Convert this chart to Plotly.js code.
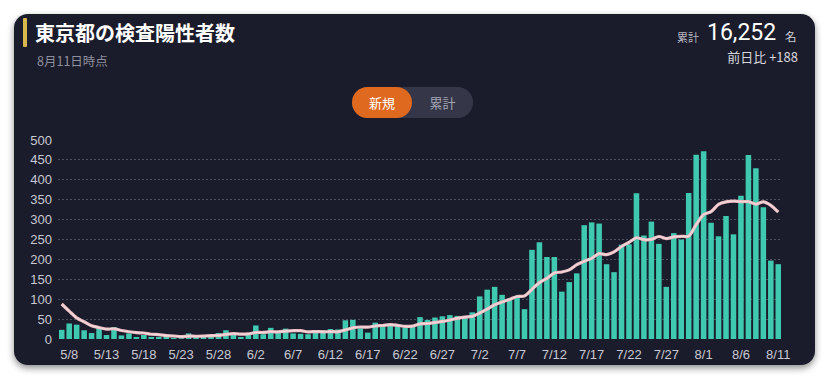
<!DOCTYPE html>
<html>
<head>
<meta charset="utf-8">
<script src="https://cdn.plot.ly/plotly-3.0.1.min.js"></script>
<style>
  html, body { margin:0; padding:0; background:#ffffff; width:828px; height:381px; overflow:hidden; }
  #card { position:absolute; left:14px; top:14px; width:801px; height:351px; border-radius:14px;
          background:#1b1c2b; box-shadow:0 3px 7px rgba(0,0,0,0.45); }
  #chart { position:absolute; left:0; top:0; width:828px; height:381px; }
  .t { position:absolute; font-family:"Noto Sans CJK JP", sans-serif; white-space:nowrap; }
  #bar { position:absolute; left:23px; top:18px; width:4px; height:29px; background:#d8b84c; border-radius:1px; }
  #toggle { position:absolute; left:352px; top:87px; width:121px; height:31px; border-radius:16px; background:#353748; }
  #on { position:absolute; left:352px; top:87px; width:60px; height:31px; border-radius:16px; background:#df691f; }
</style>
</head>
<body>
<div id="card"></div>
<div id="bar"></div>
<div class="t" style="left:35px;top:20px;font-size:20px;font-weight:bold;color:#ffffff;line-height:26px;">東京都の検査陽性者数</div>
<div class="t" style="left:37px;top:53px;font-size:12.5px;color:#8d8f9e;line-height:16px;">8月11日時点</div>
<div class="t" style="left:677px;top:30px;font-size:11px;color:#b4b5c0;line-height:14px;">累計</div>
<div class="t" style="left:707px;top:19px;font-size:23px;color:#ffffff;line-height:28px;font-family:Roboto, sans-serif;">16,252</div>
<div class="t" style="left:785px;top:29px;font-size:11.5px;color:#d0d1d8;line-height:14px;">名</div>
<div class="t" style="right:30px;top:49px;font-size:13px;color:#d6d7de;line-height:16px;">前日比 +188</div>
<div id="toggle"></div>
<div id="on"></div>
<div class="t" style="left:352px;top:87px;width:60px;text-align:center;font-size:13px;color:#ffffff;line-height:31px;">新規</div>
<div class="t" style="left:412px;top:87px;width:61px;text-align:center;font-size:13px;color:#a3a5b3;line-height:31px;">累計</div>
<div id="chart"></div>
<script>
const dates = ["5/7","5/8","5/9","5/10","5/11","5/12","5/13","5/14","5/15","5/16","5/17","5/18","5/19","5/20","5/21","5/22","5/23","5/24","5/25","5/26","5/27","5/28","5/29","5/30","5/31",
"6/1","6/2","6/3","6/4","6/5","6/6","6/7","6/8","6/9","6/10","6/11","6/12","6/13","6/14","6/15","6/16","6/17","6/18","6/19","6/20","6/21","6/22","6/23","6/24","6/25","6/26","6/27","6/28","6/29","6/30",
"7/1","7/2","7/3","7/4","7/5","7/6","7/7","7/8","7/9","7/10","7/11","7/12","7/13","7/14","7/15","7/16","7/17","7/18","7/19","7/20","7/21","7/22","7/23","7/24","7/25","7/26","7/27","7/28","7/29","7/30","7/31",
"8/1","8/2","8/3","8/4","8/5","8/6","8/7","8/8","8/9","8/10","8/11"];

const newCases = [23,39,36,22,15,28,10,30,9,14,5,10,5,5,11,3,2,14,8,10,11,15,22,14,5,
13,34,12,28,20,26,14,13,12,18,22,25,24,47,48,27,16,41,35,39,35,29,31,55,48,54,57,60,58,54,
67,107,124,131,111,102,106,75,224,243,206,206,119,143,165,286,293,290,188,168,237,238,366,260,295,239,131,266,250,367,463,
472,292,258,309,263,360,462,429,331,197,188];

const avg7 = [88.0,70.0,53.1,43.3,33.0,28.7,24.7,25.7,21.4,18.3,15.9,15.1,11.9,11.1,8.4,7.6,5.9,7.1,6.9,7.6,8.4,9.0,11.7,13.4,12.1,
12.9,16.3,16.4,18.3,18.0,19.7,21.0,21.0,17.9,18.7,17.9,18.6,18.3,23.0,28.0,30.1,29.9,32.6,34.0,36.1,34.4,31.7,32.3,37.9,38.9,41.6,44.1,47.7,51.9,55.1,
56.9,65.3,75.3,85.9,93.1,99.4,106.9,108.0,124.7,141.7,152.4,166.0,168.4,173.7,186.6,195.4,202.6,214.6,212.0,219.0,232.4,242.9,254.3,249.6,250.3,257.6,252.3,256.4,258.1,258.3,287.3,
312.6,320.1,338.3,344.4,346.3,345.3,345.1,339.0,344.6,335.9,318.6];

const xTicks = ["5/8","5/13","5/18","5/23","5/28","6/2","6/7","6/12","6/17","6/22","6/27","7/2","7/7","7/12","7/17","7/22","7/27","8/1","8/6","8/11"];
const yTicks = [0,50,100,150,200,250,300,350,400,450,500];

const traces = [
  { type:'bar', x:dates, y:newCases, marker:{color:'#3fc9b1'}, hoverinfo:'skip' },
  { type:'scatter', mode:'lines', x:dates, y:avg7, line:{color:'#ebbcc2', width:3.2, shape:'spline', smoothing:0.8}, hoverinfo:'skip' },
  { type:'scatter', mode:'lines', x:dates, y:avg7, line:{color:'rgba(255,255,255,0.45)', width:1.2, shape:'spline', smoothing:0.8}, hoverinfo:'skip' }
];

const layout = {
  width:828, height:381,
  margin:{l:58, r:46, t:140, b:42},
  paper_bgcolor:'rgba(0,0,0,0)', plot_bgcolor:'rgba(0,0,0,0)',
  showlegend:false,
  bargap:0.26,
  xaxis:{ type:'category', tickmode:'array', tickvals:xTicks, ticktext:xTicks,
          showgrid:false, zeroline:false, showline:false, ticks:'', ticklabelstandoff:6,
          tickfont:{family:'Liberation Sans, Arial, sans-serif', size:13, color:'#c8c9d2'} },
  yaxis:{ range:[0,500], tickmode:'array', tickvals:yTicks, ticktext:yTicks.map(String),
          showgrid:true, gridcolor:'rgba(200,200,215,0.30)', griddash:'2px,2px', gridwidth:1,
          zeroline:false, showline:false, ticks:'', ticklabelstandoff:5,
          tickfont:{family:'Liberation Sans, Arial, sans-serif', size:13, color:'#c8c9d2'} }
};

Plotly.newPlot('chart', traces, layout, {staticPlot:true, displayModeBar:false});
</script>
</body>
</html>
